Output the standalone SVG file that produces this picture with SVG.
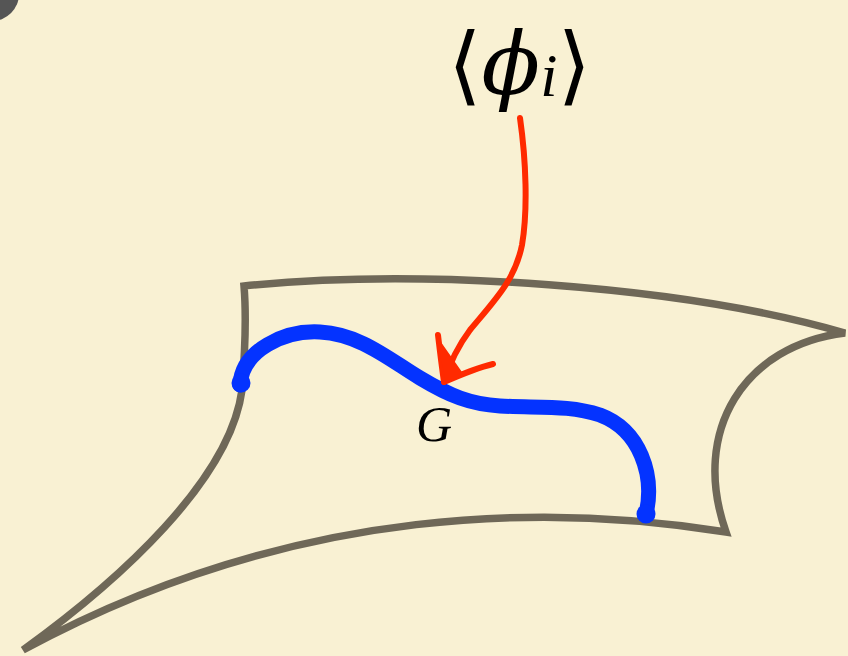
<svg xmlns="http://www.w3.org/2000/svg" width="848" height="656" viewBox="0 0 848 656">
<style>
.surf{fill:none;stroke:#6f6858;stroke-width:7.5;stroke-linejoin:miter}
.curve{fill:none;stroke:#0433ff;stroke-width:15;stroke-linecap:round;stroke-linejoin:round}
.arrow{fill:none;stroke:#ff2a00;stroke-width:6;stroke-linecap:round;stroke-linejoin:round}
.tex{font-family:"DejaVu Serif","Liberation Serif",serif;fill:#000}
.lbl{font-family:"Liberation Serif","DejaVu Serif",serif;font-style:italic;fill:#000}
</style>
<rect width="848" height="656" fill="#f9f1d3"/>
<circle cx="-8" cy="-6" r="27" fill="#555555"/>
<g id="surface">
<path class="surf" d="M244,286 C420,268 680,285 845,333 C745,345 690,430 726,532 C560,505 300,500 23,650 C120,580 230,480 242,390 C246,340 246,310 244,286 Z"/>
</g>
<g id="curve-G">
<path class="curve" d="M240,385 C242,350 285,330 320,332 C360,334 390,360 420,378 C450,396 470,404 500,406 C540,408 570,405 600,415 C640,430 655,475 646,514"/>
<circle cx="241" cy="383" r="9.5" fill="#0433ff"/>
<circle cx="646" cy="514" r="9.5" fill="#0433ff"/>
<text class="lbl" x="416" y="441" font-size="50">G</text>
</g>
<g id="connectors">
<path class="arrow" d="M520,118 C526,160 528,210 522,245 C515,280 495,300 470,330 C458,346 450,362 444,382"/>
<path class="arrow" d="M438,335 C440,352 442,368 444,382 C460,375 476,368 493,364"/>
<path d="M436,335 L446,383 L494,363 L462,372 Z" fill="#ff2a00"/>
</g>
<g id="label-phi">
<text class="tex" x="448" y="94" font-size="86">⟨<tspan font-style="italic">ϕ</tspan><tspan class="lbl" font-size="62" dy="2">i</tspan><tspan dy="-2">⟩</tspan></text>
</g>
</svg>
